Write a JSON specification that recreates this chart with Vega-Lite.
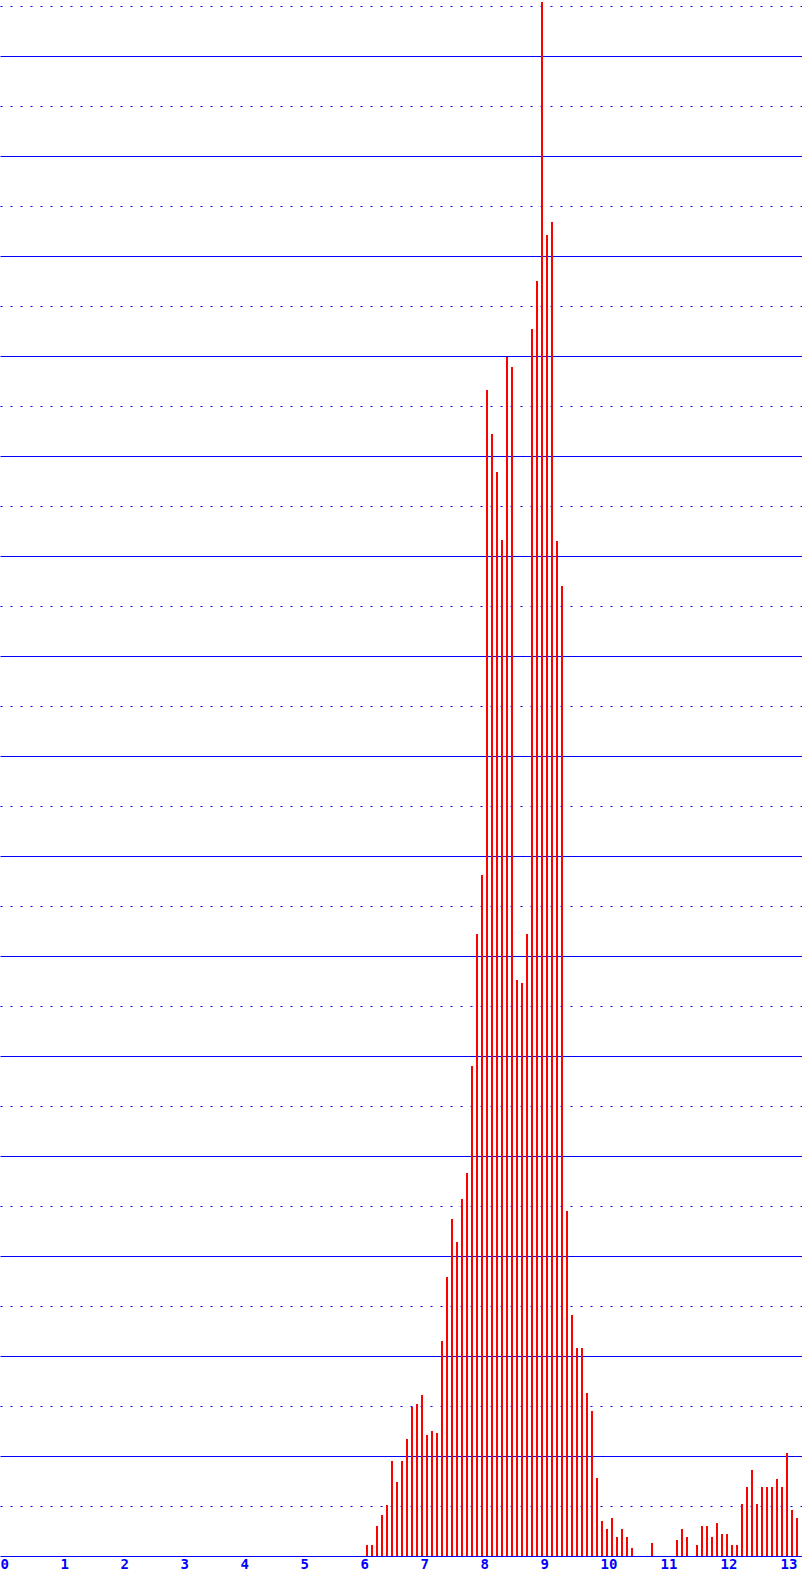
{
  "$schema": "https://vega.github.io/schema/vega-lite/v6.json",
  "width": 802,
  "height": 1556,
  "autosize": "none",
  "padding": {"left": 0, "top": 0, "right": 0, "bottom": 20},
  "background": "white",
  "config": {"view": {"stroke": null}},
  "data": {
    "values": [
      {"x": 6.05, "y": 1.1}, {"x": 6.1333, "y": 1.1}, {"x": 6.2167, "y": 3.0}, {"x": 6.3, "y": 4.1},
      {"x": 6.3833, "y": 5.1}, {"x": 6.4667, "y": 9.5}, {"x": 6.55, "y": 7.4}, {"x": 6.6333, "y": 9.5},
      {"x": 6.7167, "y": 11.7}, {"x": 6.8, "y": 14.9}, {"x": 6.8833, "y": 15.2}, {"x": 6.9667, "y": 16.1},
      {"x": 7.05, "y": 12.1}, {"x": 7.1333, "y": 12.5}, {"x": 7.2167, "y": 12.3}, {"x": 7.3, "y": 21.5},
      {"x": 7.3833, "y": 27.9}, {"x": 7.4667, "y": 33.7}, {"x": 7.55, "y": 31.4}, {"x": 7.6333, "y": 35.7},
      {"x": 7.7167, "y": 38.3}, {"x": 7.8, "y": 49.0}, {"x": 7.8833, "y": 62.2}, {"x": 7.9667, "y": 68.1},
      {"x": 8.05, "y": 116.6}, {"x": 8.1333, "y": 112.2}, {"x": 8.2167, "y": 108.4}, {"x": 8.3, "y": 101.6},
      {"x": 8.3833, "y": 119.9}, {"x": 8.4667, "y": 118.9}, {"x": 8.55, "y": 57.6}, {"x": 8.6333, "y": 57.3},
      {"x": 8.7167, "y": 62.2}, {"x": 8.8, "y": 122.7}, {"x": 8.8833, "y": 127.5}, {"x": 8.9667, "y": 155.4},
      {"x": 9.05, "y": 132.1}, {"x": 9.1333, "y": 133.4}, {"x": 9.2167, "y": 101.5}, {"x": 9.3, "y": 97.0},
      {"x": 9.3833, "y": 34.5}, {"x": 9.4667, "y": 24.1}, {"x": 9.55, "y": 20.8}, {"x": 9.6333, "y": 20.8},
      {"x": 9.7167, "y": 16.3}, {"x": 9.8, "y": 14.5}, {"x": 9.8833, "y": 7.8}, {"x": 9.9667, "y": 3.5},
      {"x": 10.05, "y": 2.7}, {"x": 10.1333, "y": 3.8}, {"x": 10.2167, "y": 1.9}, {"x": 10.3, "y": 2.7},
      {"x": 10.3833, "y": 1.9}, {"x": 10.4667, "y": 0.8}, {"x": 10.8, "y": 1.3},
      {"x": 11.2167, "y": 1.6}, {"x": 11.3, "y": 2.7}, {"x": 11.3833, "y": 1.9},
      {"x": 11.55, "y": 1.1}, {"x": 11.6333, "y": 3.0}, {"x": 11.7167, "y": 3.0}, {"x": 11.8, "y": 1.9},
      {"x": 11.8833, "y": 3.3}, {"x": 11.9667, "y": 2.2}, {"x": 12.05, "y": 2.2}, {"x": 12.1333, "y": 1.1},
      {"x": 12.2167, "y": 1.1}, {"x": 12.3, "y": 5.2}, {"x": 12.3833, "y": 6.9}, {"x": 12.4667, "y": 8.6},
      {"x": 12.55, "y": 5.2}, {"x": 12.6333, "y": 6.9}, {"x": 12.7167, "y": 6.9}, {"x": 12.8, "y": 6.9},
      {"x": 12.8833, "y": 7.7}, {"x": 12.9667, "y": 6.9}, {"x": 13.05, "y": 10.3}, {"x": 13.1333, "y": 4.6},
      {"x": 13.2167, "y": 3.8}
    ]
  },
  "mark": {"type": "rule", "color": "#ff0000", "strokeWidth": 2, "strokeCap": "butt"},
  "encoding": {
    "x": {
      "field": "x",
      "type": "quantitative",
      "scale": {"domain": [-0.066667, 13.3], "nice": false, "zero": false},
      "axis": {
        "values": [0, 1, 2, 3, 4, 5, 6, 7, 8, 9, 10, 11, 12, 13],
        "title": null,
        "grid": false,
        "ticks": false,
        "domain": true,
        "domainColor": "#0000ff",
        "domainWidth": 1,
        "labelColor": "#0000ff",
        "labelFont": "DejaVu Sans Mono",
        "labelFontWeight": "bold",
        "labelFontSize": 14,
        "labelAlign": "left",
        "labelOffset": -4,
        "labelPadding": 1,
        "labelOverlap": false,
        "labelFlush": false
      }
    },
    "y": {
      "field": "y",
      "type": "quantitative",
      "scale": {"domain": [0, 155.6], "nice": false},
      "axis": {
        "values": [5, 10, 15, 20, 25, 30, 35, 40, 45, 50, 55, 60, 65, 70, 75, 80, 85, 90, 95, 100, 105, 110, 115, 120, 125, 130, 135, 140, 145, 150, 155],
        "title": null,
        "labels": false,
        "ticks": false,
        "domain": false,
        "grid": true,
        "gridColor": "#0000ff",
        "gridWidth": 1,
        "gridOpacity": 1,
        "gridDash": {"condition": {"test": "datum.value % 10 !== 0", "value": [2, 8]}, "value": []}
      }
    },
    "y2": {"datum": 0}
  }
}
